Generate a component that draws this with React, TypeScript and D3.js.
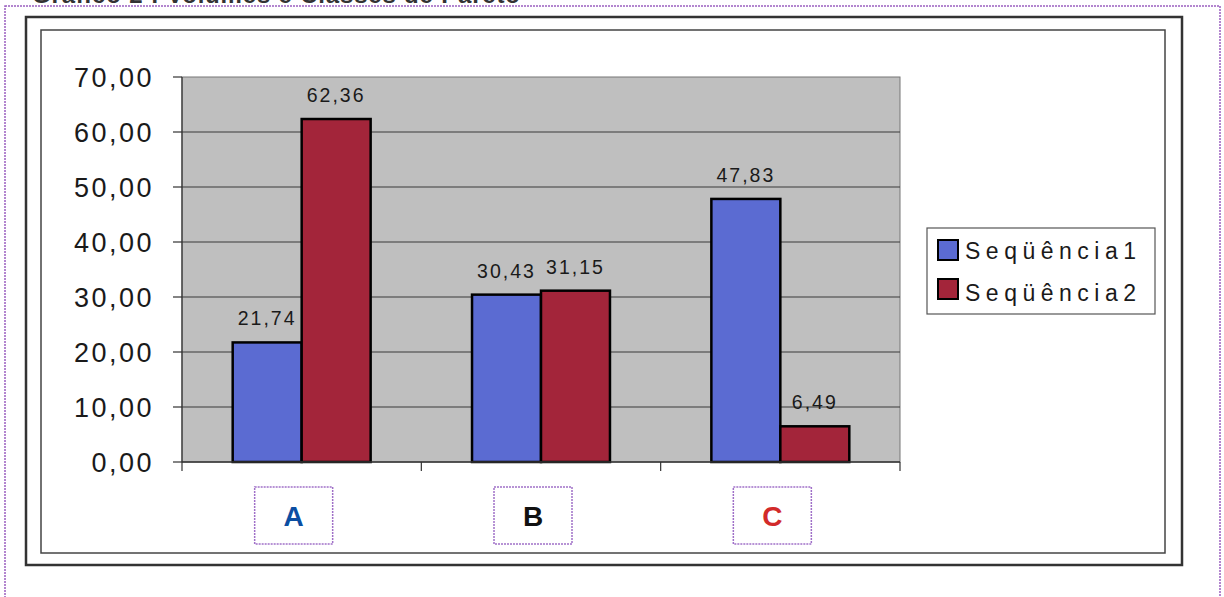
import React from "react";
import * as d3 from "d3";

const categories = ["A", "B", "C"];
const seriesNames = ["Seqüência1", "Seqüência2"];
const serie1 = [21.74, 30.43, 47.83];
const serie2 = [62.36, 31.15, 6.49];
const yTicks = [0, 10, 20, 30, 40, 50, 60, 70];
const categoryColors = ["#0b4ea2", "#111111", "#d22a2a"];
const seriesColors = ["#5b6bd2", "#a3253a"];
const title = "Gráfico 2 : Volumes e Classes de Pareto";

const fmt = (v: number) => v.toFixed(2).replace(".", ",");

export default function App() {
  const W = 1224;
  const H = 597;
  const plot = { left: 182, right: 900, top: 77, bottom: 462 };
  const x0 = d3.scaleBand<string>().domain(categories).range([plot.left, plot.right]).padding(0);
  const x1 = d3
    .scaleBand<string>()
    .domain(seriesNames)
    .range([0, x0.bandwidth()])
    .paddingInner(0)
    .paddingOuter(0.735);
  const y = d3.scaleLinear().domain([0, 70]).range([plot.bottom, plot.top]);
  const values = [serie1, serie2];
  const font = "Arial, 'Liberation Sans', Helvetica, sans-serif";

  return (
    <svg
      width={W}
      height={H}
      viewBox={`0 0 ${W} ${H}`}
      style={{ position: "absolute", left: 0, top: 0, background: "#fff" }}
      fontFamily={font}
    >
      {/* truncated title */}
      <text x={32} y={3} fontSize={24} fontWeight="bold" fill="#333" textLength={488} lengthAdjust="spacing">
        {title}
      </text>
      {/* purple dotted border */}
      <rect x={5} y={6} width={1215} height={620} fill="none" stroke="#9a5fc0" strokeWidth={1.5} strokeDasharray="2,1" />
      {/* outer frames */}
      <rect x={26} y={17} width={1156} height={548} fill="none" stroke="#333" strokeWidth={2.5} />
      <rect x={41} y={30} width={1124} height={523} fill="none" stroke="#444" strokeWidth={1.5} />

      {/* plot area */}
      <rect x={plot.left} y={plot.top} width={plot.right - plot.left} height={plot.bottom - plot.top} fill="#bfbfbf" stroke="#777" strokeWidth={1} />
      {yTicks.map((t) => (
        <g key={t}>
          {t > 0 && t < 70 && (
            <line x1={plot.left} x2={plot.right} y1={y(t)} y2={y(t)} stroke="#3a3a3a" strokeWidth={1.2} />
          )}
          <line x1={plot.left - 9} x2={plot.left} y1={y(t)} y2={y(t)} stroke="#333" strokeWidth={1.2} />
          <text
            x={154}
            y={y(t)}
            dy="0.36em"
            textAnchor="end"
            fontSize={27}
            letterSpacing={2.5}
            fill="#1a1a1a"
          >
            {fmt(t)}
          </text>
        </g>
      ))}
      <line x1={plot.left} x2={plot.left} y1={plot.top} y2={plot.bottom} stroke="#333" strokeWidth={1.2} />

      {/* bars */}
      {categories.map((c, ci) =>
        seriesNames.map((s, si) => {
          const v = values[si][ci];
          const bx = (x0(c) as number) + (x1(s) as number);
          const bw = x1.bandwidth();
          return (
            <g key={c + s}>
              <rect x={bx} y={y(v)} width={bw} height={y(0) - y(v)} fill={seriesColors[si]} stroke="#000" strokeWidth={2.5} />
              <text x={bx + bw / 2} y={y(v) - 17} textAnchor="middle" fontSize={19.5} letterSpacing={2} fill="#1a1a1a">
                {fmt(v)}
              </text>
            </g>
          );
        })
      )}

      {/* x axis */}
      <line x1={plot.left} x2={plot.right} y1={plot.bottom} y2={plot.bottom} stroke="#333" strokeWidth={1.5} />
      {categories.map((c, i) => (
        <line key={"t" + c} x1={x0(c)} x2={x0(c)} y1={plot.bottom} y2={plot.bottom + 9} stroke="#333" strokeWidth={1.2} />
      ))}
      <line x1={plot.right} x2={plot.right} y1={plot.bottom} y2={plot.bottom + 9} stroke="#333" strokeWidth={1.2} />

      {/* category labels in dotted boxes */}
      {categories.map((c, i) => {
        const cx = (x0(c) as number) + x0.bandwidth() / 2 - 8;
        return (
          <g key={"cat" + c}>
            <rect x={cx - 39} y={487} width={78} height={57} fill="#fff" stroke="#a070c8" strokeWidth={1.5} strokeDasharray="2,1" />
            <text x={cx} y={515.5} dy="0.36em" textAnchor="middle" fontSize={28} fontWeight="bold" fill={categoryColors[i]}>
              {c}
            </text>
          </g>
        );
      })}

      {/* legend */}
      <rect x={927} y={228} width={228} height={86} fill="#fff" stroke="#555" strokeWidth={1.2} />
      {seriesNames.map((s, i) => (
        <g key={"leg" + s}>
          <rect x={938} y={240 + i * 39} width={20} height={20} fill={seriesColors[i]} stroke="#000" strokeWidth={2} />
          <text x={965} y={259 + i * 42} fontSize={23} letterSpacing={5.5} fill="#1a1a1a">
            {s}
          </text>
        </g>
      ))}
    </svg>
  );
}
